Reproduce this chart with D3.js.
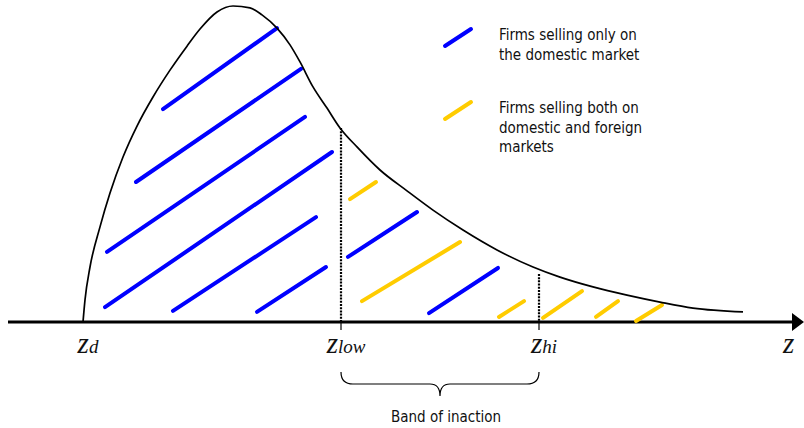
<!DOCTYPE html>
<html>
<head>
<meta charset="utf-8">
<script src="https://cdn.jsdelivr.net/npm/d3@7"></script>
<style>
    body { margin: 0; background: #fff; }
    svg { display: block; }
    .legend-text, .band-text { font-family: "DejaVu Sans Condensed", "DejaVu Sans", sans-serif; font-size: 15px; fill: #111; }
    .zlabel { font-family: "Liberation Serif", "Times New Roman", serif; font-style: italic; fill: #111; }
</style>
</head>
<body>
<div id="root"></div>
<script>
// density curve (z, density)
const curveZ = [1.50, 1.54, 1.64, 1.84, 2.04, 2.30, 2.58, 2.90, 3.24, 3.58, 3.84, 4.18, 4.50, 4.84, 5.08, 5.38, 5.64, 5.84, 6.10, 6.38, 6.64, 6.98, 7.44, 7.98, 8.50, 9.10, 9.78, 10.50, 11.04, 11.70, 12.38, 13.04, 13.70, 14.70]
const curveD = [0, 0.070, 0.174, 0.301, 0.408, 0.522, 0.620, 0.712, 0.797, 0.873, 0.927, 0.981, 1.000, 0.994, 0.972, 0.930, 0.877, 0.823, 0.744, 0.677, 0.614, 0.554, 0.481, 0.415, 0.354, 0.291, 0.228, 0.174, 0.142, 0.111, 0.085, 0.063, 0.044, 0.032]

// thresholds on the z axis
const thresholdNames = ['d', 'low', 'hi']
const thresholdZ = [1.50, 6.66, 10.62]
const dottedTop = [null, 0.614, 0.152]

// hatch segments [z1, d1, z2, d2]
const blueHatch = [
    [3.10, 0.674, 5.38, 0.930],
    [2.56, 0.443, 5.86, 0.801],
    [1.98, 0.222, 5.94, 0.649],
    [1.94, 0.047, 6.48, 0.538],
    [3.30, 0.035, 6.16, 0.332],
    [4.98, 0.032, 6.36, 0.174],
    [6.80, 0.206, 8.18, 0.348],
    [8.42, 0.028, 9.80, 0.171]
]
const yellowHatch = [
    [6.84, 0.389, 7.36, 0.443],
    [7.08, 0.066, 9.04, 0.253],
    [9.82, 0.016, 10.32, 0.066],
    [10.70, 0.013, 11.48, 0.098],
    [11.76, 0.016, 12.20, 0.066],
    [12.56, 0.003, 13.08, 0.054]
]

const legendLabels = [
    ['Firms selling only on', 'the domestic market'],
    ['Firms selling both on', 'domestic and foreign', 'markets']
]
const legendColors = ['#0000ff', '#ffcc00']
const axisEnd = 15.92

const width = 804
const height = 428

const svg = d3.select('#root').append('svg')
    .attr('width', width).attr('height', height)

const x = d3.scaleLinear().domain([0, 16]).range([8, 808])
const y = d3.scaleLinear().domain([0, 1]).range([322, 6])

// axis with arrow
svg.append('line')
    .attr('x1', x(0)).attr('x2', x(axisEnd) - 8)
    .attr('y1', y(0)).attr('y2', y(0))
    .attr('stroke', '#000').attr('stroke-width', 3)
svg.append('path')
    .attr('d', `M${x(axisEnd)},${y(0)} L${x(axisEnd) - 12},${y(0) - 9} L${x(axisEnd) - 12},${y(0) + 9} Z`)
    .attr('fill', '#000')

// hatching
const drawHatch = (segments, color) => {
    svg.append('g').selectAll('line').data(segments)
        .enter().append('line')
        .attr('x1', d => x(d[0])).attr('y1', d => y(d[1]))
        .attr('x2', d => x(d[2])).attr('y2', d => y(d[3]))
        .attr('stroke', color).attr('stroke-width', 4)
        .attr('stroke-linecap', 'round')
}
drawHatch(blueHatch, legendColors[0])
drawHatch(yellowHatch, legendColors[1])

// density curve
const pts = curveZ.map((z, i) => [z, curveD[i]])
svg.append('path').datum(pts)
    .attr('d', d3.line().x(d => x(d[0])).y(d => y(d[1])).curve(d3.curveMonotoneX))
    .attr('fill', 'none').attr('stroke', '#000').attr('stroke-width', 1.7)

// dotted thresholds and ticks
thresholdZ.forEach((z, i) => {
    if (dottedTop[i] === null) return
    svg.append('line')
        .attr('x1', x(z)).attr('x2', x(z))
        .attr('y1', y(dottedTop[i])).attr('y2', y(0))
        .attr('stroke', '#000').attr('stroke-width', 2.2)
        .attr('stroke-dasharray', '2,1.2')
    svg.append('line')
        .attr('x1', x(z)).attr('x2', x(z))
        .attr('y1', y(0)).attr('y2', y(0) + 8)
        .attr('stroke', '#000').attr('stroke-width', 1.2)
})

// z labels
const labels = svg.append('g').selectAll('text').data(thresholdNames)
    .enter().append('text')
    .attr('class', 'zlabel')
    .attr('x', (d, i) => x(thresholdZ[i]) + 5)
    .attr('y', 353)
    .attr('text-anchor', 'middle')
labels.append('tspan').attr('font-size', 29).text('z')
labels.append('tspan').attr('font-size', 19).text(d => d)

svg.append('text').attr('class', 'zlabel')
    .attr('x', x(axisEnd) - 21).attr('y', 353)
    .attr('font-size', 29).text('z')

// brace under band of inaction
const bx1 = x(thresholdZ[1])
const bx2 = x(thresholdZ[2])
const mid = (bx1 + bx2) / 2
svg.append('path')
    .attr('d', `M${bx1},372 Q${bx1},384 ${bx1 + 12},384 L${mid - 10},384 Q${mid},384 ${mid},396 Q${mid},384 ${mid + 10},384 L${bx2 - 12},384 Q${bx2},384 ${bx2},372`)
    .attr('fill', 'none').attr('stroke', '#000').attr('stroke-width', 1.2)
svg.append('text').attr('class', 'band-text')
    .attr('x', mid + 6).attr('y', 422)
    .attr('text-anchor', 'middle')
    .text('Band of inaction')

// legend
const legendTop = [38, 111]
legendLabels.forEach((lines, i) => {
    const g = svg.append('g').attr('transform', `translate(445, ${legendTop[i]})`)
    g.append('line')
        .attr('x1', 0).attr('y1', 8).attr('x2', 26).attr('y2', -9)
        .attr('stroke', legendColors[i]).attr('stroke-width', 4)
        .attr('stroke-linecap', 'round')
    g.selectAll('text').data(lines)
        .enter().append('text')
        .attr('class', 'legend-text')
        .attr('x', 54)
        .attr('y', (d, j) => 2 + j * 19.5)
        .text(d => d)
})
</script>
</body>
</html>
